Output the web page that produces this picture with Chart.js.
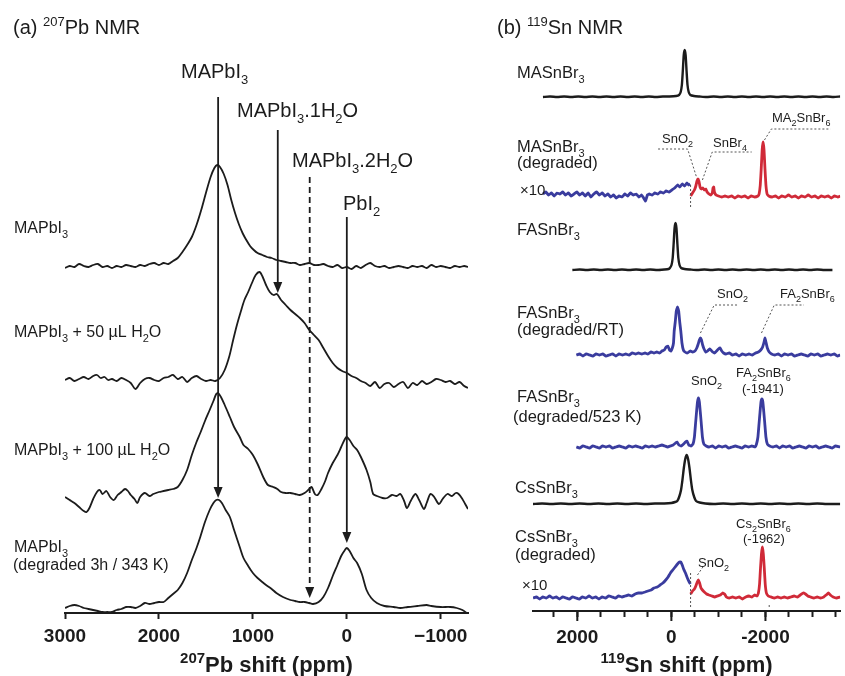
<!DOCTYPE html>
<html>
<head>
<meta charset="utf-8">
<script src="https://cdn.jsdelivr.net/npm/chart.js@4.4.0/dist/chart.umd.min.js"></script>
<style>
  html, body { margin: 0; padding: 0; background: #fff; }
  #wrap { position: relative; width: 845px; height: 676px; overflow: hidden; }
  canvas { position: absolute; top: 0; }
  #pb { left: 0; }
  #sn { left: 480px; }
</style>
</head>
<body>
<div id="wrap">
  <canvas id="pb" width="480" height="676"></canvas>
  <canvas id="sn" width="365" height="676"></canvas>
</div>
<script>
// ---- (a) 207Pb spectra: [ppm, intensity above own baseline] ----
const pbTicks = [3000, 2000, 1000, 0, -1000];
const pbOffsets = [346, 233, 116, 3];
const pbPristine = [[3000,-1],[2950,1],[2900,0],[2850,3],[2800,1],[2750,0],[2700,2],[2650,3],[2600,0],[2550,1],[2500,-1],[2450,1],[2400,0],[2350,2],[2300,1],[2250,0],[2200,2],[2150,1],[2100,3],[2050,4],[2000,2],[1950,4],[1900,3],[1850,6],[1800,9],[1750,15],[1700,22],[1650,30],[1600,42],[1550,57],[1500,74],[1450,90],[1410,99],[1380,102],[1350,100],[1310,93],[1270,82],[1230,67],[1190,54],[1150,43],[1110,34],[1070,27],[1030,21],[990,17],[950,14],[900,12],[850,10],[800,9],[750,7],[700,6],[650,5],[600,4],[550,4],[500,2],[450,3],[400,4],[350,2],[300,2],[250,3],[200,1],[150,0],[100,2],[50,-1],[0,0],[-50,-2],[-100,1],[-150,-1],[-200,2],[-250,4],[-300,1],[-350,0],[-400,1],[-450,-1],[-500,0],[-550,1],[-600,0],[-650,-1],[-700,1],[-750,0],[-800,1],[-850,-1],[-900,2],[-950,0],[-1000,1],[-1050,0],[-1100,-1],[-1150,1],[-1200,0],[-1250,1],[-1290,0]];
const pbWater50 = [[3000,0],[2950,2],[2900,-1],[2850,1],[2800,3],[2750,1],[2700,4],[2660,5],[2620,2],[2580,3],[2540,0],[2500,1],[2450,-1],[2400,2],[2350,0],[2300,-3],[2250,-9],[2200,-3],[2150,1],[2100,2],[2050,0],[2000,-1],[1950,2],[1900,3],[1850,5],[1800,1],[1750,3],[1700,-2],[1650,2],[1600,4],[1550,1],[1500,-1],[1450,0],[1400,-1],[1350,2],[1300,10],[1250,24],[1210,40],[1170,55],[1130,68],[1090,80],[1050,88],[1010,97],[970,105],[930,108],[900,104],[860,95],[820,88],[780,85],[745,86],[700,80],[650,75],[600,70],[550,66],[500,62],[450,57],[400,50],[350,45],[300,40],[250,32],[200,24],[150,17],[100,12],[50,9],[0,7],[-50,4],[-100,2],[-150,-1],[-200,-3],[-250,-6],[-300,-2],[-350,-8],[-400,-4],[-450,-3],[-500,-7],[-550,-4],[-600,-2],[-650,-8],[-700,-3],[-750,-5],[-800,-1],[-850,-4],[-900,-2],[-950,1],[-1000,0],[-1050,-2],[-1100,-1],[-1150,-4],[-1200,-2],[-1250,-6],[-1290,-8]];
const pbWater100 = [[3000,0],[2950,-3],[2900,-6],[2850,-10],[2800,-14],[2770,-15],[2740,-11],[2700,-2],[2660,5],[2630,7],[2600,3],[2560,6],[2520,0],[2480,-3],[2440,2],[2400,5],[2360,8],[2330,6],[2300,2],[2260,-2],[2230,-6],[2200,0],[2150,4],[2100,1],[2060,3],[2000,5],[1950,6],[1900,7],[1850,8],[1800,10],[1750,17],[1700,27],[1650,42],[1600,55],[1560,64],[1510,76],[1460,87],[1420,96],[1390,103],[1370,104],[1340,100],[1300,92],[1245,80],[1200,70],[1140,60],[1100,52],[1050,48],[1000,42],[950,33],[890,20],[840,12],[785,10],[740,8],[700,5],[650,4],[600,4],[550,3],[500,2],[450,4],[400,8],[375,10],[340,3],[310,2],[270,8],[230,16],[200,24],[150,34],[100,42],[60,50],[20,58],[0,60],[-30,57],[-70,51],[-110,47],[-150,40],[-210,27],[-250,15],[-280,3],[-320,1],[-380,-1],[-430,-1],[-480,2],[-530,1],[-570,3],[-610,-4],[-640,-11],[-680,-4],[-730,3],[-770,-3],[-820,-12],[-850,-6],[-890,3],[-930,0],[-980,-7],[-1020,-2],[-1070,3],[-1120,1],[-1160,4],[-1190,3],[-1230,-2],[-1260,-7],[-1290,-12]];
const pbDegraded = [[3000,2],[2950,4],[2900,5],[2850,4],[2800,2],[2750,1],[2700,0],[2650,-1],[2600,-2],[2550,-2],[2500,-2],[2450,0],[2400,1],[2350,3],[2300,3],[2250,2],[2200,4],[2150,7],[2100,6],[2050,7],[2000,8],[1950,8],[1900,12],[1850,16],[1800,20],[1750,27],[1700,37],[1650,50],[1600,62],[1560,73],[1510,88],[1460,100],[1420,107],[1390,110],[1360,110],[1330,107],[1290,100],[1245,93],[1200,80],[1140,63],[1100,52],[1050,44],[1000,37],[950,32],[900,28],[860,25],[800,21],[750,17],[680,13],[600,10],[550,9],[500,8],[450,8],[400,7],[360,6],[300,8],[250,13],[200,22],[150,34],[100,45],[60,54],[20,60],[0,62],[-30,59],[-70,52],[-110,47],[-160,36],[-210,20],[-260,12],[-320,7],[-400,4],[-500,3],[-570,2],[-650,3],[-750,4],[-850,5],[-900,4],[-1000,3],[-1100,3],[-1170,2],[-1230,0],[-1290,-4]];
// assignment arrows: ppm, top and tip (chart units)
const pbMarkPpm = [1370, 735, 395, 0];
const pbMarkTop = [516, 483, 436, 396];
const pbMarkTip = [115, 320, 15, 70];

// ---- (b) 119Sn spectra ----
const snTicks = [2500, 2000, 1500, 1000, 500, 0, -500, -1000, -1500, -2000, -2500, -3000, -3500];
const snMajorTicks = [2000, 0, -2000];
const snOffsets = [514, 417, 341, 256, 164, 107, 13];
const snMA = [[2730,0],[2580,0.5],[2430,0],[2280,0.5],[2130,0],[1980,0.5],[1830,0],[1680,0.5],[1530,0],[1380,0.5],[1230,0],[1080,0.5],[930,0],[780,0.5],[630,0],[480,0.5],[330,0],[180,0.5],[40,0.5],[-100,1],[-163,2],[-198,5],[-223,12],[-243,26],[-263,42],[-283,47],[-303,42],[-323,26],[-343,12],[-368,5],[-403,2],[-480,1],[-600,0.5],[-750,0],[-900,0.5],[-1050,0],[-1200,0.5],[-1350,0],[-1500,0.5],[-1650,0],[-1800,0.5],[-1950,0],[-2100,0.5],[-2250,0],[-2400,0.5],[-2550,0],[-2700,0.5],[-2850,0],[-3000,0.5],[-3150,0],[-3300,0.5],[-3450,0],[-3590,0.5]];
const snMAdegLow = [[2730,0],[2670,2],[2610,-1],[2550,1],[2490,-2],[2430,1],[2370,0],[2310,2],[2250,-1],[2190,1],[2130,-2],[2070,0],[2010,2],[1950,-1],[1890,1],[1830,-2],[1770,1],[1710,-3],[1650,0],[1590,2],[1530,-1],[1470,1],[1410,-2],[1350,0],[1290,-3],[1230,-1],[1170,-4],[1110,-2],[1050,-3],[990,0],[930,-2],[870,1],[810,-1],[750,0],[690,-3],[630,-1],[590,-4],[550,-7],[510,-1],[470,0],[410,-1],[350,1],[290,0],[230,2],[170,1],[110,3],[50,2],[-10,4],[-70,6],[-130,9],[-180,7],[-230,10],[-280,8],[-330,11],[-370,9],[-400,10]];
const snMAdegHigh = [[-410,-2],[-450,1],[-490,4],[-520,8],[-545,13],[-565,15],[-585,13],[-610,7],[-640,5],[-670,6],[-700,4],[-730,5],[-760,2],[-800,0],[-840,-1],[-870,1],[-885,6],[-900,7],[-915,2],[-950,-1],[-1000,-2],[-1070,-3],[-1140,-2],[-1210,-3],[-1280,-2],[-1350,-4],[-1420,-2],[-1490,-3],[-1560,-2],[-1630,-4],[-1700,-2],[-1770,-3],[-1840,-2],[-1865,0],[-1890,9],[-1910,25],[-1930,44],[-1950,52],[-1970,44],[-1990,25],[-2010,9],[-2035,0],[-2070,-2],[-2140,-3],[-2210,-2],[-2280,-4],[-2350,-2],[-2420,-3],[-2490,-1],[-2560,-3],[-2630,-2],[-2700,-4],[-2770,-2],[-2840,-3],[-2910,-1],[-2980,-3],[-3050,-2],[-3120,-4],[-3190,-2],[-3260,-3],[-3330,-2],[-3400,-4],[-3470,-2],[-3540,-3],[-3590,-2]];
const snFA = [[2105,0],[1950,0.5],[1800,0],[1650,0.5],[1500,0],[1350,0.5],[1200,0],[1050,0.5],[900,0],[750,0.5],[600,0],[450,0.5],[300,0],[150,0.5],[60,1],[32,2],[-3,5],[-28,12],[-48,26],[-68,42],[-88,47],[-108,42],[-128,26],[-148,12],[-173,5],[-208,2],[-280,1],[-400,0.5],[-550,0],[-700,0.5],[-850,0],[-1000,0.5],[-1150,0],[-1300,0.5],[-1450,0],[-1600,0.5],[-1750,0],[-1900,0.5],[-2050,0],[-2200,0.5],[-2350,0],[-2500,0.5],[-2650,0],[-2800,0.5],[-2950,0],[-3100,0.5],[-3250,0],[-3424,0]];
const snFAdegRT = [[2021,0],[1950,1],[1880,-1],[1810,1],[1740,0],[1670,-1],[1600,1],[1530,0],[1460,1],[1390,-1],[1320,0],[1250,1],[1180,-1],[1110,1],[1040,0],[970,1],[900,0],[830,2],[760,1],[700,2],[630,1],[560,2],[500,1],[430,3],[370,2],[310,3],[250,2],[200,4],[150,5],[110,8],[75,9],[40,5],[10,4],[-20,7],[-45,12],[-60,24],[-80,32],[-105,44],[-130,48],[-155,44],[-180,32],[-200,24],[-225,12],[-255,5],[-290,3],[-340,2],[-400,4],[-450,3],[-500,4],[-540,7],[-570,11],[-595,15],[-618,17],[-640,15],[-665,10],[-695,6],[-730,3],[-770,4],[-810,6],[-840,5],[-880,3],[-920,2],[-960,4],[-1000,6],[-1035,7],[-1070,4],[-1110,2],[-1160,1],[-1230,2],[-1300,0],[-1370,1],[-1440,-1],[-1510,1],[-1580,0],[-1650,1],[-1720,0],[-1790,2],[-1850,3],[-1900,5],[-1940,8],[-1970,13],[-1990,17],[-2010,13],[-2040,7],[-2080,3],[-2130,1],[-2200,0],[-2270,1],[-2340,-1],[-2410,1],[-2480,0],[-2550,1],[-2620,-1],[-2690,0],[-2760,1],[-2830,0],[-2900,-1],[-2970,1],[-3040,0],[-3110,1],[-3180,-1],[-3250,0],[-3320,1],[-3390,0],[-3460,1],[-3530,-1],[-3590,0]];
const snFAdeg523 = [[2021,0],[1950,-1],[1880,1],[1810,0],[1740,-1],[1670,1],[1600,0],[1530,-1],[1460,1],[1390,0],[1320,1],[1250,-1],[1180,0],[1110,1],[1040,0],[970,-1],[900,1],[830,0],[760,1],[690,0],[620,-1],[550,1],[480,0],[410,1],[340,0],[270,1],[200,2],[140,1],[80,0],[20,1],[-40,2],[-90,4],[-120,5],[-160,2],[-210,1],[-260,3],[-300,5],[-330,6],[-370,2],[-420,1],[-460,3],[-490,10],[-515,24],[-535,35],[-555,45],[-575,49],[-595,45],[-615,35],[-635,24],[-660,10],[-690,3],[-740,1],[-800,0],[-870,1],[-940,-1],[-1010,1],[-1080,0],[-1150,1],[-1220,-1],[-1290,0],[-1360,1],[-1430,0],[-1500,-1],[-1570,1],[-1640,0],[-1710,1],[-1780,0],[-1810,3],[-1840,10],[-1865,24],[-1885,35],[-1905,45],[-1925,48],[-1945,45],[-1965,35],[-1985,24],[-2010,10],[-2040,3],[-2090,1],[-2160,0],[-2230,1],[-2300,-1],[-2370,1],[-2440,0],[-2510,1],[-2580,-1],[-2650,0],[-2720,1],[-2790,0],[-2860,-1],[-2930,1],[-3000,0],[-3070,1],[-3140,-1],[-3210,0],[-3280,1],[-3350,0],[-3420,-1],[-3490,1],[-3590,0]];
const snCs = [[2942,0],[2750,0.5],[2550,0],[2350,0.5],[2150,0],[1950,0.5],[1750,0],[1550,0.5],[1350,0],[1150,0.5],[950,0],[750,0.5],[550,0],[350,0.5],[150,0.5],[0,1],[-80,2],[-125,3],[-165,7],[-205,14],[-235,24],[-265,36],[-295,45],[-325,49],[-355,45],[-385,36],[-415,24],[-445,14],[-485,7],[-525,3],[-600,1.5],[-720,0.5],[-900,0],[-1100,0.5],[-1300,0],[-1500,0.5],[-1700,0],[-1900,0.5],[-2100,0],[-2300,0.5],[-2500,0],[-2700,0.5],[-2900,0],[-3100,0.5],[-3300,0],[-3590,0]];
const snCsDegLow = [[2942,0],[2870,1],[2800,-1],[2730,1],[2660,0],[2590,2],[2520,0],[2450,1],[2380,-1],[2310,1],[2240,0],[2170,-1],[2100,1],[2030,0],[1960,-1],[1890,1],[1820,0],[1750,2],[1680,0],[1610,1],[1540,-1],[1470,1],[1400,0],[1330,2],[1260,1],[1190,0],[1120,2],[1050,1],[980,2],[910,3],[840,2],[770,4],[700,5],[630,5],[560,6],[500,7],[430,8],[370,10],[300,11],[240,13],[180,15],[120,18],[70,21],[20,25],[-30,28],[-80,31],[-130,34],[-175,36],[-200,36],[-230,33],[-260,29],[-300,25],[-340,20],[-380,16],[-405,14]];
const snCsDegHigh = [[-410,4],[-450,7],[-490,9],[-520,12],[-550,16],[-575,18],[-600,15],[-630,10],[-660,8],[-700,6],[-750,4],[-800,3],[-860,2],[-920,1],[-980,2],[-1040,3],[-1090,5],[-1130,4],[-1170,1],[-1230,0],[-1300,1],[-1370,0],[-1440,1],[-1510,-1],[-1580,1],[-1650,2],[-1710,1],[-1770,3],[-1820,2],[-1850,5],[-1875,14],[-1895,30],[-1915,44],[-1935,51],[-1955,44],[-1975,30],[-1995,14],[-2020,5],[-2060,2],[-2120,1],[-2190,0],[-2260,1],[-2330,0],[-2400,1],[-2470,0],[-2540,1],[-2610,2],[-2680,1],[-2740,3],[-2800,5],[-2850,4],[-2900,2],[-2960,1],[-3030,0],[-3100,1],[-3170,0],[-3240,1],[-3290,3],[-3340,5],[-3380,3],[-3440,1],[-3510,0],[-3590,1]];
// dashed assignment leaders [ppm, chart units]
const snLeaders = [
  [[283,462],[-345,462],[-534,434]],
  [[-660,431],[-869,459],[-1707,459]],
  [[-1979,471],[-2126,482],[-3382,482]],
  [[-618,278],[-911,306],[-1435,306]],
  [[-1916,278],[-2188,306],[-2817,306]],
  [[-555,36],[-700,46]],
  [[-408,426],[-408,402]],
  [[-408,38],[-408,3]],
  [[-2080,6],[-2080,2]]
];

const FONT = '"Liberation Sans", Arial, Helvetica, sans-serif';
const INK = '#1c1c1c';
const BLUE = '#3a3c9e';
const RED = '#d02a38';

function toPoints(pairs, offset) {
  return pairs.map(([x, y]) => ({ x: x, y: y + offset }));
}

// text with _sub and ^{sup} markup
function rich(ctx, str, x, y, size, opt = {}) {
  const weight = opt.bold ? 'bold ' : '';
  const runs = [];
  for (let i = 0; i < str.length;) {
    const c = str[i];
    if (c === '_' || c === '^') {
      let t;
      if (str[i + 1] === '{') { const j = str.indexOf('}', i); t = str.slice(i + 2, j); i = j + 1; }
      else { t = str[i + 1]; i += 2; }
      runs.push({ t: t, k: c });
    } else {
      let j = i;
      while (j < str.length && str[j] !== '_' && str[j] !== '^') j++;
      runs.push({ t: str.slice(i, j), k: '' });
      i = j;
    }
  }
  const fontFor = k => weight + (k ? Math.round(size * 0.66) : size) + 'px ' + FONT;
  let w = 0;
  runs.forEach(r => { ctx.font = fontFor(r.k); r.w = ctx.measureText(r.t).width; w += r.w; });
  let cx = opt.align === 'center' ? x - w / 2 : x;
  ctx.save();
  ctx.fillStyle = opt.color || INK;
  ctx.textAlign = 'left';
  ctx.textBaseline = 'alphabetic';
  runs.forEach(r => {
    ctx.font = fontFor(r.k);
    const dy = r.k === '_' ? size * 0.3 : (r.k === '^' ? -size * 0.42 : 0);
    ctx.fillText(r.t, cx, y + dy);
    cx += r.w;
  });
  ctx.restore();
}

const pbDecor = {
  id: 'pbDecor',
  afterDatasetsDraw(chart) {
    const { ctx, chartArea, scales: { x, y } } = chart;
    ctx.save();
    ctx.strokeStyle = INK;
    ctx.fillStyle = INK;
    ctx.lineWidth = 1.8;
    pbMarkPpm.forEach((p, i) => {
      const px = x.getPixelForValue(p);
      const top = y.getPixelForValue(pbMarkTop[i]);
      const tip = y.getPixelForValue(pbMarkTip[i]);
      ctx.setLineDash(i === 2 ? [6, 4] : []);
      ctx.beginPath(); ctx.moveTo(px, top); ctx.lineTo(px, tip - 9); ctx.stroke();
      ctx.setLineDash([]);
      ctx.beginPath();
      ctx.moveTo(px - 4.5, tip - 11); ctx.lineTo(px + 4.5, tip - 11); ctx.lineTo(px, tip);
      ctx.closePath(); ctx.fill();
    });
    ctx.restore();

    rich(ctx, '(a) ^{207}Pb NMR', 13, 34, 20);
    rich(ctx, 'MAPbI_3', 181, 78, 20);
    rich(ctx, 'MAPbI_3.1H_2O', 237, 117, 20);
    rich(ctx, 'MAPbI_3.2H_2O', 292, 167, 20);
    rich(ctx, 'PbI_2', 343, 210, 20);
    rich(ctx, 'MAPbI_3', 14, 233, 16);
    rich(ctx, 'MAPbI_3 + 50 \u00b5L H_2O', 14, 337, 16);
    rich(ctx, 'MAPbI_3 + 100 \u00b5L H_2O', 14, 455, 16);
    rich(ctx, 'MAPbI_3', 14, 552, 16);
    rich(ctx, '(degraded 3h / 343 K)', 13, 570, 16);
    rich(ctx, '^{207}Pb shift (ppm)', (chartArea.left + chartArea.right) / 2, 672, 22, { bold: true, align: 'center' });
  }
};

const snDecor = {
  id: 'snDecor',
  afterDatasetsDraw(chart) {
    const { ctx, chartArea, scales: { x, y } } = chart;
    ctx.save();
    ctx.strokeStyle = '#555';
    ctx.lineWidth = 1;
    ctx.setLineDash([2, 2]);
    snLeaders.forEach(line => {
      ctx.beginPath();
      line.forEach(([p, v], i) => {
        const px = x.getPixelForValue(p), py = y.getPixelForValue(v);
        if (i) ctx.lineTo(px, py); else ctx.moveTo(px, py);
      });
      ctx.stroke();
    });
    ctx.setLineDash([]);
    ctx.strokeStyle = INK;
    ctx.lineWidth = 2;
    snMajorTicks.forEach(v => {
      const px = x.getPixelForValue(v);
      ctx.beginPath(); ctx.moveTo(px, x.top); ctx.lineTo(px, x.top + 10); ctx.stroke();
    });
    ctx.restore();

    rich(ctx, '(b) ^{119}Sn NMR', 17, 34, 20);
    rich(ctx, 'MASnBr_3', 37, 78, 16.5);
    rich(ctx, 'MASnBr_3', 37, 152, 16.5);
    rich(ctx, '(degraded)', 37, 168, 16.5);
    rich(ctx, '\u00d710', 40, 195, 15);
    rich(ctx, 'FASnBr_3', 37, 235, 16.5);
    rich(ctx, 'FASnBr_3', 37, 318, 16.5);
    rich(ctx, '(degraded/RT)', 37, 335, 16.5);
    rich(ctx, 'FASnBr_3', 37, 402, 16.5);
    rich(ctx, '(degraded/523 K)', 33, 422, 16.5);
    rich(ctx, 'CsSnBr_3', 35, 493, 16.5);
    rich(ctx, 'CsSnBr_3', 35, 542, 16.5);
    rich(ctx, '(degraded)', 35, 560, 16.5);
    rich(ctx, '\u00d710', 42, 590, 15);
    rich(ctx, 'SnO_2', 182, 143, 13);
    rich(ctx, 'SnBr_4', 233, 147, 13);
    rich(ctx, 'MA_2SnBr_6', 292, 122, 13);
    rich(ctx, 'SnO_2', 237, 298, 13);
    rich(ctx, 'FA_2SnBr_6', 300, 298, 13);
    rich(ctx, 'SnO_2', 211, 385, 13);
    rich(ctx, 'FA_2SnBr_6', 256, 377, 13);
    rich(ctx, '(-1941)', 262, 393, 13);
    rich(ctx, 'Cs_2SnBr_6', 256, 528, 13);
    rich(ctx, '(-1962)', 263, 543, 13);
    rich(ctx, 'SnO_2', 218, 567, 13);
    rich(ctx, '^{119}Sn shift (ppm)', (chartArea.left + chartArea.right) / 2, 672, 22, { bold: true, align: 'center' });
  }
};

function axisX(min, max, tickValues, height, pad, fmt) {
  return {
    type: 'linear', reverse: true, min: min, max: max,
    afterBuildTicks(scale) { scale.ticks = tickValues.map(v => ({ value: v })); },
    afterFit(scale) { scale.height = height; },
    border: { display: true, color: INK, width: 2 },
    grid: { drawOnChartArea: false, drawTicks: true, tickLength: 6, tickWidth: 2, tickColor: INK },
    ticks: {
      autoSkip: false, maxRotation: 0, padding: pad,
      color: INK, font: { family: FONT, size: 19, weight: 'bold' }, callback: fmt
    }
  };
}

function line(data, color, width, tension) {
  return { data: data, borderColor: color, borderWidth: width, pointRadius: 0, tension: tension, fill: false };
}

new Chart(document.getElementById('pb'), {
  type: 'line',
  data: {
    datasets: [
      line(toPoints(pbPristine, pbOffsets[0]), INK, 1.8, 0.3),
      line(toPoints(pbWater50, pbOffsets[1]), INK, 1.8, 0.3),
      line(toPoints(pbWater100, pbOffsets[2]), INK, 1.8, 0.3),
      line(toPoints(pbDegraded, pbOffsets[3]), INK, 1.8, 0.3)
    ]
  },
  options: {
    responsive: false, animation: false,
    layout: { padding: { left: 65, right: 12, top: 40, bottom: 0 } },
    plugins: { legend: { display: false }, tooltip: { enabled: false } },
    scales: {
      x: axisX(-1290, 3000, pbTicks, 63, 6, v => v < 0 ? '\u2212' + Math.abs(v) : String(v)),
      y: { display: false, min: 0, max: 573 }
    }
  },
  plugins: [pbDecor]
});

new Chart(document.getElementById('sn'), {
  type: 'line',
  data: {
    datasets: [
      line(toPoints(snMA, snOffsets[0]), INK, 2.4, 0.2),
      line(toPoints(snMAdegLow, snOffsets[1]), BLUE, 2.8, 0.1),
      line(toPoints(snMAdegHigh, snOffsets[1]), RED, 2.8, 0.1),
      line(toPoints(snFA, snOffsets[2]), INK, 2.4, 0.2),
      line(toPoints(snFAdegRT, snOffsets[3]), BLUE, 2.8, 0.1),
      line(toPoints(snFAdeg523, snOffsets[4]), BLUE, 2.8, 0.1),
      line(toPoints(snCs, snOffsets[5]), INK, 2.4, 0.2),
      line(toPoints(snCsDegLow, snOffsets[6]), BLUE, 2.8, 0.1),
      line(toPoints(snCsDegHigh, snOffsets[6]), RED, 2.8, 0.1)
    ]
  },
  options: {
    responsive: false, animation: false,
    layout: { padding: { left: 53, right: 0, top: 40, bottom: 0 } },
    plugins: { legend: { display: false }, tooltip: { enabled: false } },
    scales: {
      x: axisX(-3590, 2942, snTicks, 65, 9, v => v % 2000 === 0 ? String(v) : ''),
      y: { display: false, min: 0, max: 571 }
    }
  },
  plugins: [snDecor]
});
</script>
</body>
</html>
